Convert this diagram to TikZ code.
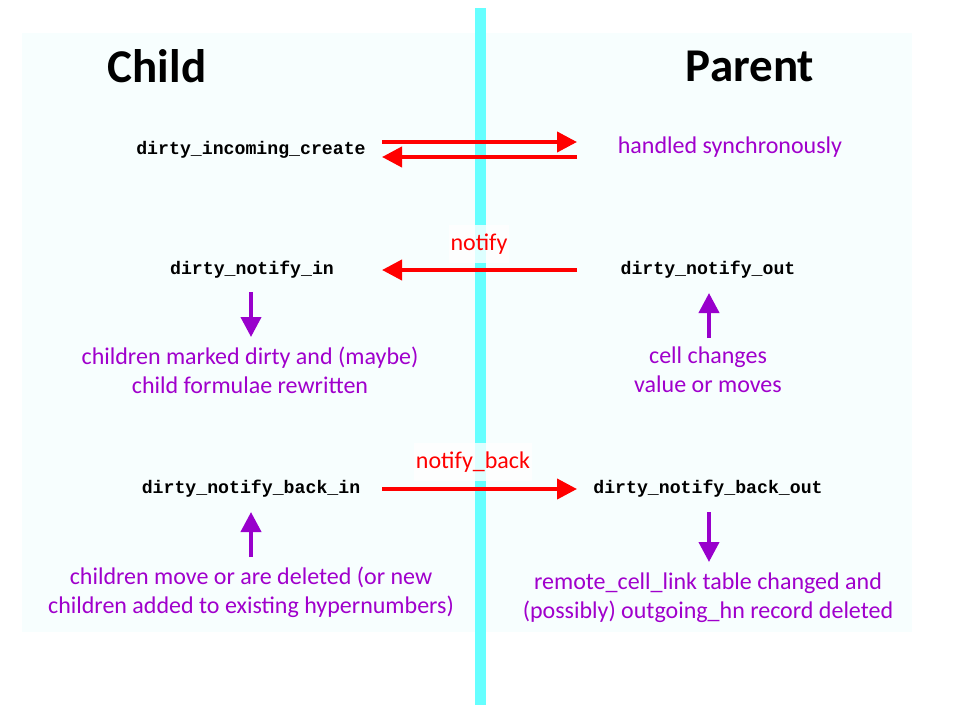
\documentclass[tikz,border=0pt]{standalone}
\usepackage{fontspec}
\setmainfont{Carlito}
\newfontfamily\codefont{Liberation Mono}
\usetikzlibrary{arrows.meta}
\definecolor{paleBg}{HTML}{F7FEFE}
\definecolor{barCyan}{HTML}{66FFFF}
\definecolor{arrRed}{HTML}{FF0000}
\definecolor{txtPurple}{HTML}{A000CC}
\definecolor{arrPurple}{HTML}{9900CC}
\tikzset{
  title/.style={font=\fontsize{47}{50}\selectfont\bfseries, text=black, inner sep=0pt},
  code/.style={font=\codefont\bfseries\fontsize{18.2}{20}\selectfont, text=black, inner sep=0pt},
  note/.style={font=\fontsize{24}{29}\selectfont, text=txtPurple, align=center, inner sep=0pt},
  msglabel/.style={font=\fontsize{24}{26}\selectfont, text=arrRed, fill=white, fill opacity=0.78, text opacity=1, inner sep=2pt, minimum height=38pt},
  redarrow/.style={draw=arrRed, line width=4pt, -{Triangle[length=20pt,width=20pt]}},
  purplearrow/.style={draw=arrPurple, line width=4pt, -{Triangle[length=20pt,width=20pt]}},
}
\begin{document}
\begin{tikzpicture}[x=1pt,y=-1pt]
\useasboundingbox (0,0) rectangle (960,720);
\fill[white] (0,0) rectangle (960,720);
\fill[paleBg] (22,33) rectangle (912,632);
\fill[barCyan] (475,8) rectangle (486,705);

\node[title] (child) at (157,66) {Child};
\node[title] (parent) at (750,66) {Parent};

% row 1
\node[code] (dic) at (251,150) {dirty\_incoming\_create};
\node[note] (hs) at (730,147) {handled synchronously};
\coordinate (r1a) at (382,142);
\coordinate (r1b) at (577,142);
\coordinate (r1c) at (577,157);
\coordinate (r1d) at (382,157);
\draw[redarrow] (r1a) -- (r1b);
\draw[redarrow] (r1c) -- (r1d);

% row 2
\node[msglabel] (notify) at (479,244) {notify};
\node[code] (dni) at (252,270) {dirty\_notify\_in};
\node[code] (dno) at (708,270) {dirty\_notify\_out};
\coordinate (r2a) at (577,270);
\coordinate (r2b) at (382,270);
\draw[redarrow] (r2a) -- (r2b);
\node[note] (cm) at (250,370) {children marked dirty and (maybe)\\child formulae rewritten};
\node[note] (cc) at (708,370) {cell changes\\value or moves};
\coordinate (p1a) at (251,292);
\coordinate (p1b) at (251,337);
\draw[purplearrow] (p1a) -- (p1b);
\coordinate (p2a) at (709,338);
\coordinate (p2b) at (709,293);
\draw[purplearrow] (p2a) -- (p2b);

% row 3
\node[msglabel] (nb) at (473,462) {notify\_back};
\node[code] (dnbi) at (251,489) {dirty\_notify\_back\_in};
\node[code] (dnbo) at (708,489) {dirty\_notify\_back\_out};
\coordinate (r3a) at (382,489);
\coordinate (r3b) at (577,489);
\draw[redarrow] (r3a) -- (r3b);
\node[note] (cmv) at (251,592) {children move or are deleted (or new\\children added to existing hypernumbers)};
\node[note] (rcl) at (708,598) {remote\_cell\_link table changed and\\(possibly) outgoing\_hn record deleted};
\coordinate (p3a) at (251,557);
\coordinate (p3b) at (251,512);
\draw[purplearrow] (p3a) -- (p3b);
\coordinate (p4a) at (709,512);
\coordinate (p4b) at (709,562);
\draw[purplearrow] (p4a) -- (p4b);
\end{tikzpicture}
\end{document}
